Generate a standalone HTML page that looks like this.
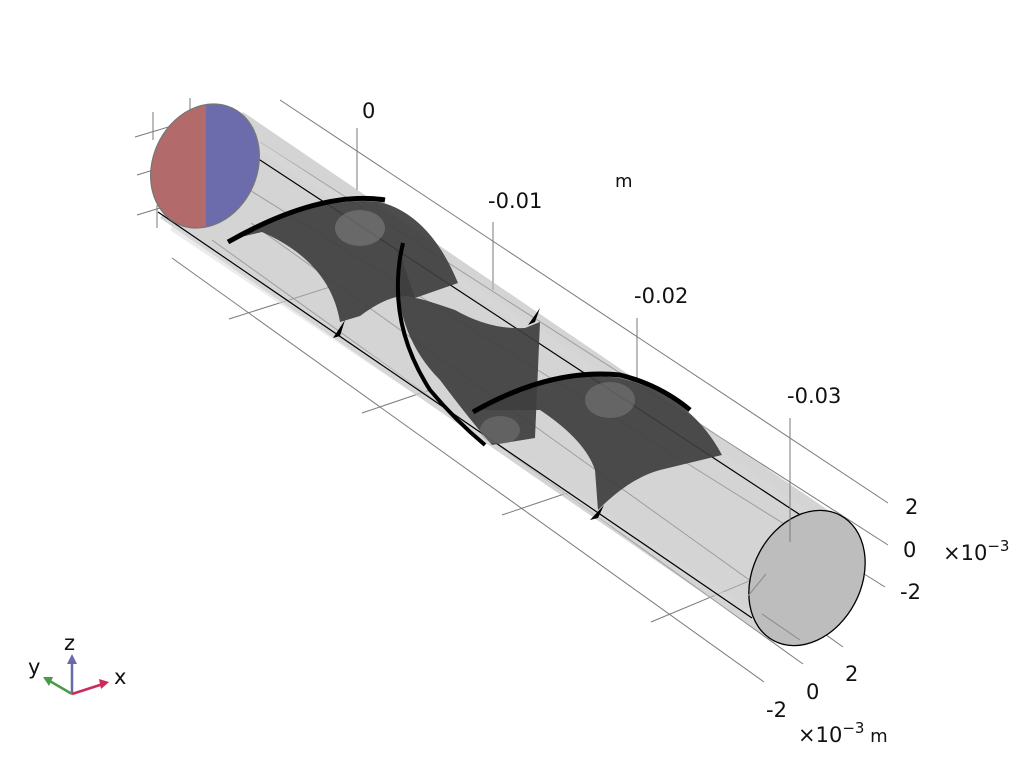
<!DOCTYPE html>
<html><head><meta charset="utf-8"><style>
html,body{margin:0;padding:0;background:#fff;}
svg{display:block;}
text{font-family:"DejaVu Sans","Liberation Sans",sans-serif;fill:#111;}
</style></head><body>
<svg width="1024" height="768" viewBox="0 0 1024 768">
<!-- grid lines -->
<g stroke="#7a7a7a" stroke-width="1" fill="none">
<line x1="280" y1="100" x2="888" y2="503"/>
<line x1="260" y1="142" x2="888" y2="545"/>
<line x1="240" y1="184" x2="885" y2="587"/>
<line x1="172" y1="258" x2="764" y2="682"/>
<line x1="212" y1="240" x2="803" y2="664"/>
<line x1="251" y1="223" x2="843" y2="647"/>
<line x1="229" y1="319" x2="330" y2="287"/>
<line x1="362" y1="413" x2="430" y2="390"/>
<line x1="502" y1="515" x2="570" y2="492"/>
<line x1="651" y1="622" x2="766" y2="574"/>
<line x1="135" y1="137" x2="175" y2="125"/>
<line x1="137" y1="175" x2="160" y2="168"/>
<line x1="137" y1="215" x2="160" y2="208"/>
<line x1="153" y1="112" x2="153" y2="140"/>
<line x1="190" y1="98" x2="190" y2="112"/>
<line x1="157" y1="205" x2="157" y2="228"/>
<line x1="357" y1="128" x2="357" y2="190"/>
<line x1="493" y1="222" x2="493" y2="290"/>
<line x1="637" y1="318" x2="637" y2="380"/>
</g>
<!-- cylinder body -->
<path d="M243,112 L850,525 L762,634 L160,218 Z" fill="#b8b8b8" fill-opacity="0.6"/>
<path d="M238,126 L838,530 L834,538 L234,134 Z" fill="#d8d8d8" fill-opacity="0.5"/>
<path d="M175,222 L768,622 L764,629 L170,230 Z" fill="#d8d8d8" fill-opacity="0.5"/>
<g stroke="#000" stroke-width="1.2" fill="none">
<line x1="190" y1="114" x2="808" y2="520"/>
<line x1="158" y1="212" x2="752" y2="618"/>
</g>
<!-- blades -->
<path d="M228,240 Q320,195 380,202 Q430,215 458,283 L415,298 Q395,290 360,316 L340,322 Q330,262 262,232 Z" fill="#3e3e3e" fill-opacity="0.92"/>
<path d="M228,242 Q320,190 385,200" stroke="#000" stroke-width="5" fill="none"/>
<path d="M398,248 Q390,330 440,380 Q470,420 492,445 L535,438 L540,322 L525,328 Q490,330 455,310 Q420,298 415,298 Z" fill="#3e3e3e" fill-opacity="0.92"/>
<path d="M403,243 Q385,320 430,390 Q455,420 485,445" stroke="#000" stroke-width="4" fill="none"/>
<path d="M473,410 Q560,368 620,378 Q690,395 722,455 L660,470 Q630,478 598,510 L595,470 Q585,440 540,410 Z" fill="#3e3e3e" fill-opacity="0.92"/>
<path d="M473,412 Q550,368 620,375 Q660,385 690,410" stroke="#000" stroke-width="5" fill="none"/>
<ellipse cx="360" cy="228" rx="25" ry="18" fill="#888" opacity="0.5"/>
<ellipse cx="610" cy="400" rx="25" ry="18" fill="#888" opacity="0.45"/>
<ellipse cx="500" cy="430" rx="20" ry="14" fill="#888" opacity="0.4"/>
<path d="M333,338 L345,320 L340,336 Z M528,325 L540,308 L535,322 Z M590,520 L604,505 L598,518 Z" fill="#000"/>
<!-- left end -->
<clipPath id="le"><ellipse cx="205" cy="166" rx="52" ry="64" transform="rotate(25 205 166)"/></clipPath>
<g clip-path="url(#le)">
<rect x="140" y="95" width="68" height="140" fill="#b36a6a"/>
<rect x="206" y="95" width="70" height="140" fill="#6c6cad"/>
</g>
<ellipse cx="205" cy="166" rx="52" ry="64" transform="rotate(25 205 166)" fill="none" stroke="#777" stroke-width="1.3"/>
<!-- right end -->
<ellipse cx="807" cy="578" rx="54" ry="71" transform="rotate(28 807 578)" fill="#bdbdbd" stroke="#000" stroke-width="1.3"/>
<line x1="790" y1="418" x2="790" y2="542" stroke="#7a7a7a"/>
<line x1="748" y1="596" x2="766" y2="574" stroke="#8a8a8a"/>
<line x1="800" y1="640" x2="762" y2="614" stroke="#8a8a8a"/>
<!-- labels -->
<g font-size="21">
<text x="362" y="118">0</text>
<text x="488" y="208">-0.01</text>
<text x="634" y="303">-0.02</text>
<text x="787" y="403">-0.03</text>
<text x="905" y="514">2</text>
<text x="903" y="557">0</text>
<text x="900" y="599">-2</text>
<text x="943" y="560">×10<tspan dy="-9" font-size="15">−3</tspan></text>
<text x="845" y="681">2</text>
<text x="806" y="699">0</text>
<text x="766" y="717">-2</text>
<text x="798" y="742">×10<tspan dy="-9" font-size="15">−3</tspan><tspan dy="9" font-size="18"> m</tspan></text>
</g>
<text x="615" y="187" font-size="18">m</text>
<!-- triad -->
<g stroke-width="2.5">
<line x1="72" y1="694" x2="72" y2="660" stroke="#6a6aaa"/>
<line x1="72" y1="694" x2="103" y2="684" stroke="#cc2a5a"/>
<line x1="72" y1="694" x2="48" y2="680" stroke="#4a9a4a"/>
</g>
<path d="M72,654 L67,664 L77,664 Z" fill="#6a6aaa"/>
<path d="M109,682 L99,679 L101,689 Z" fill="#cc2a5a"/>
<path d="M43,677 L49,686 L53,677 Z" fill="#4a9a4a"/>
<g font-size="21"><text x="64" y="650">z</text><text x="114" y="684">x</text><text x="28" y="674">y</text></g>
</svg>
</body></html>
